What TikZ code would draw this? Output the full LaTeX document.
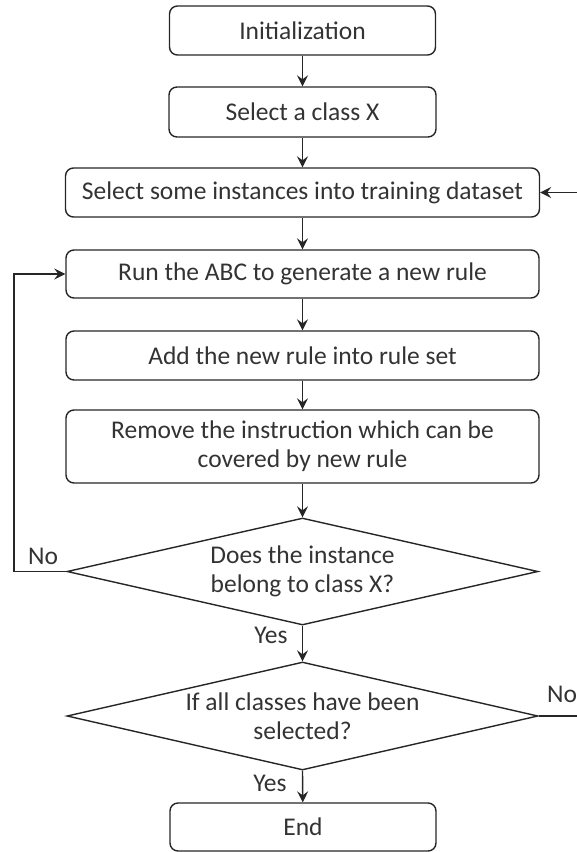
\documentclass[tikz,border=0pt]{standalone}
\usepackage{fontspec}
\setmainfont{Carlito}
\usetikzlibrary{shapes.geometric,arrows.meta}
\definecolor{ink}{HTML}{262626}
\definecolor{txt}{HTML}{333333}
\begin{document}
\begin{tikzpicture}[x=1pt,y=-1pt,
  every node/.style={font=\fontsize{25.5}{29}\selectfont, text=txt},
  box/.style={draw=ink, line width=1.4pt, rounded corners=8pt, align=center, inner sep=0pt},
  dec/.style={draw=ink, line width=1.4pt, diamond, aspect=4.4, align=center, inner sep=0pt},
  arr/.style={draw=ink, line width=1.4pt, -{Stealth[length=11pt,width=11pt,inset=4pt]}},
  ln/.style={draw=ink, line width=1.4pt},
  lab/.style={font=\fontsize{25.5}{29}\selectfont, inner sep=0pt}]
\useasboundingbox (0,0) rectangle (577,852);
\node[box, minimum width=266, minimum height=49] (init) at (302.5,30.5) {Initialization};
\node[box, minimum width=267, minimum height=50] (sel) at (302.5,112) {Select a class X};
\node[box, minimum width=474, minimum height=49] (inst) at (302.5,192.5) {Select some instances into training dataset};
\node[box, minimum width=473, minimum height=48] (run) at (302.5,274) {Run the ABC to generate a new rule};
\node[box, minimum width=473, minimum height=49] (add) at (302.5,355.5) {Add the new rule into rule set};
\node[box, minimum width=473, minimum height=73] (rem) at (302.5,446.5) {Remove the instruction which can be\\covered by new rule};
\node[dec, minimum width=471, minimum height=107] (d1) at (302.5,571.5) {Does the instance\\belong to class X?};
\node[dec, minimum width=471, minimum height=108] (d2) at (302.5,716) {If all classes have been\\selected?};
\node[box, minimum width=266, minimum height=48] (end) at (303,827) {End};
\coordinate (rin) at (577,192.5);
\coordinate (rout) at (577,716);
\coordinate (lc) at (14,571.5);
\draw[arr] (init) -- (sel);
\draw[arr] (sel) -- (inst);
\draw[arr] (rin) -- (inst.east);
\draw[arr] (inst) -- (run);
\draw[arr] (run) -- (add);
\draw[arr] (add) -- (rem);
\draw[arr] (rem) -- (d1);
\draw[arr] (d1.south) -- (d2.north);
\draw[arr] (d2.south) -- (end);
\draw[arr] (d1.west) -- (lc) |- (run.west);
\draw[ln] (d2.east) -- (rout);
\node[lab] (no1) at (43,556) {No};
\node[lab] (yes1) at (271,635) {Yes};
\node[lab] (no2) at (562,694) {No};
\node[lab] (yes2) at (270,783) {Yes};
\end{tikzpicture}
\end{document}
